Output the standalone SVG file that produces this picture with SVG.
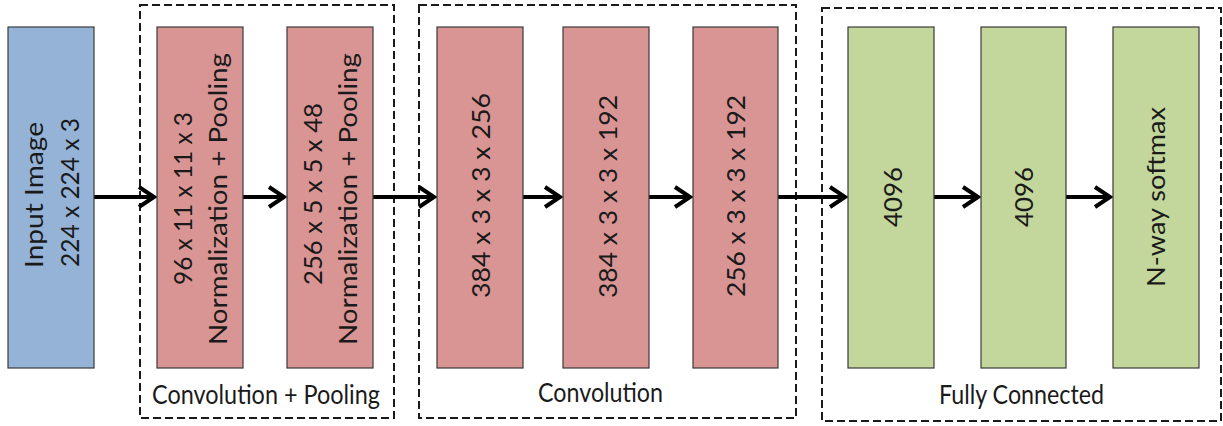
<svg xmlns="http://www.w3.org/2000/svg" width="1223" height="426" viewBox="0 0 1223 426">
<style>
.bg{fill:#ffffff}
.box{stroke:#3a3a3a;stroke-width:1.2}
.blue{fill:#95b3d7}
.pink{fill:#d99594}
.green{fill:#c3d69b}
.grp{fill:none;stroke:#1a1a1a;stroke-width:2;stroke-dasharray:8 4}
.t{font-family:Lato,"Open Sans","Liberation Sans",sans-serif;font-size:23px;fill:#1a1a1a}
.v{font-size:25px}
.conn{fill:none;stroke:#000;stroke-width:4}
</style>
<defs>
<marker id="ah" markerUnits="userSpaceOnUse" viewBox="-20 -14 26 28" refX="0" refY="0" markerWidth="26" markerHeight="28" orient="auto" overflow="visible">
<path d="M-15,-10 L0,0 L-15,10" fill="none" stroke="#000" stroke-width="4"/>
</marker>
</defs>
<rect class="bg" x="0" y="0" width="1223" height="426"/>

<g id="group-conv-pool">
<rect class="grp" x="140" y="5" width="254" height="413"/>
<text class="t" transform="translate(152,404) scale(1,1.2)" textLength="228" lengthAdjust="spacingAndGlyphs">Convolution + Pooling</text>
</g>
<g id="group-conv">
<rect class="grp" x="419" y="5" width="377" height="413"/>
<text class="t" transform="translate(538,402) scale(1,1.2)" textLength="125" lengthAdjust="spacingAndGlyphs">Convolution</text>
</g>
<g id="group-fc">
<rect class="grp" x="822" y="8" width="399" height="413"/>
<text class="t" transform="translate(939,404) scale(1,1.2)" textLength="165" lengthAdjust="spacingAndGlyphs">Fully Connected</text>
</g>

<g id="connectors">
<path class="conn" d="M94,197 H154" marker-end="url(#ah)"/>
<path class="conn" d="M243,197 H284" marker-end="url(#ah)"/>
<path class="conn" d="M373,197 H434" marker-end="url(#ah)"/>
<path class="conn" d="M523,197 H560" marker-end="url(#ah)"/>
<path class="conn" d="M649,197 H690" marker-end="url(#ah)"/>
<path class="conn" d="M778,197 H845" marker-end="url(#ah)"/>
<path class="conn" d="M934,197 H978" marker-end="url(#ah)"/>
<path class="conn" d="M1066,197 H1110" marker-end="url(#ah)"/>
</g>

<g id="input">
<rect class="box blue" x="8" y="27" width="86" height="341"/>
<text class="t v" transform="translate(43,268) rotate(-90)" textLength="146" lengthAdjust="spacingAndGlyphs">Input Image</text>
<text class="t v" transform="translate(78.5,267) rotate(-90)" textLength="149" lengthAdjust="spacingAndGlyphs">224 x 224 x 3</text>
</g>
<g id="conv1">
<rect class="box pink" x="157" y="27" width="86" height="341"/>
<text class="t v" transform="translate(192,285) rotate(-90)" textLength="173" lengthAdjust="spacingAndGlyphs">96 x 11 x 11 x 3</text>
<text class="t v" transform="translate(227,345) rotate(-90)" textLength="292" lengthAdjust="spacingAndGlyphs">Normalization + Pooling</text>
</g>
<g id="conv2">
<rect class="box pink" x="287" y="27" width="86" height="341"/>
<text class="t v" transform="translate(322,285) rotate(-90)" textLength="182" lengthAdjust="spacingAndGlyphs">256 x 5 x 5 x 48</text>
<text class="t v" transform="translate(357,345) rotate(-90)" textLength="292" lengthAdjust="spacingAndGlyphs">Normalization + Pooling</text>
</g>
<g id="conv3">
<rect class="box pink" x="437" y="27" width="86" height="341"/>
<text class="t v" transform="translate(490,298) rotate(-90)" textLength="205" lengthAdjust="spacingAndGlyphs">384 x 3 x 3 x 256</text>
</g>
<g id="conv4">
<rect class="box pink" x="563" y="27" width="86" height="341"/>
<text class="t v" transform="translate(617,298) rotate(-90)" textLength="203" lengthAdjust="spacingAndGlyphs">384 x 3 x 3 x 192</text>
</g>
<g id="conv5">
<rect class="box pink" x="693" y="27" width="85" height="341"/>
<text class="t v" transform="translate(745,297) rotate(-90)" textLength="202" lengthAdjust="spacingAndGlyphs">256 x 3 x 3 x 192</text>
</g>
<g id="fc1">
<rect class="box green" x="848" y="27" width="86" height="341"/>
<text class="t v" transform="translate(902,227) rotate(-90)" textLength="60" lengthAdjust="spacingAndGlyphs">4096</text>
</g>
<g id="fc2">
<rect class="box green" x="981" y="27" width="85" height="341"/>
<text class="t v" transform="translate(1033,227) rotate(-90)" textLength="60" lengthAdjust="spacingAndGlyphs">4096</text>
</g>
<g id="softmax">
<rect class="box green" x="1113" y="27" width="86" height="341"/>
<text class="t v" transform="translate(1165,287) rotate(-90)" textLength="180" lengthAdjust="spacingAndGlyphs">N-way softmax</text>
</g>
</svg>
